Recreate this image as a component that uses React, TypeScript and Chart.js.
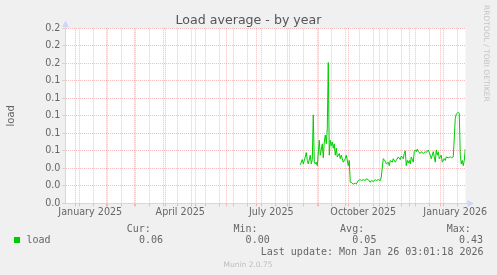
import { useEffect, useRef } from 'react';
import { Chart, registerables } from 'chart.js';

Chart.register(...registerables);

// ---- data (x = days since 2025-01-01, y = load) ----
const loadDays = [
  225, 226, 227, 228, 230, 231, 232, 233, 235, 236, 237, 238, 239, 240, 241, 242,
  244, 245, 246, 247, 248, 249, 250, 251, 252, 253, 254, 255, 256, 257, 258, 259,
  260, 261, 262, 264, 265, 266, 268, 270, 271, 273, 274,
  275, 276, 278, 280, 281, 283, 285, 286, 288, 290, 291, 293, 295, 296, 298, 300,
  301, 303, 305, 306,
  308, 310, 311, 313, 314, 315, 317, 318, 320, 321, 323, 325, 326, 328, 329, 330,
  331, 332, 333, 334, 335, 336, 338, 339, 340, 341, 342, 343, 345, 346, 348, 350,
  351, 353, 354, 355, 356, 358, 359, 360, 361, 362, 363, 364, 365, 366, 367, 369,
  370, 371, 373, 375, 376, 378, 380, 381, 383, 384, 385, 386, 387, 388, 389, 390,
];
const loadValues = [
  0.044, 0.047, 0.050, 0.045, 0.053, 0.058, 0.049, 0.045, 0.055, 0.045, 0.050, 0.101, 0.047, 0.045, 0.047, 0.043,
  0.072, 0.055, 0.061, 0.068, 0.052, 0.070, 0.078, 0.068, 0.085, 0.161, 0.055, 0.072, 0.066, 0.070, 0.063, 0.068,
  0.055, 0.063, 0.053, 0.057, 0.051, 0.055, 0.047, 0.051, 0.055, 0.043, 0.049,
  0.024, 0.024, 0.022, 0.023, 0.022, 0.026, 0.027, 0.026, 0.027, 0.026, 0.028, 0.027, 0.024, 0.026, 0.025, 0.027,
  0.026, 0.027, 0.026, 0.030,
  0.051, 0.048, 0.045, 0.047, 0.043, 0.049, 0.047, 0.051, 0.047, 0.049, 0.053, 0.050, 0.054, 0.051, 0.057, 0.060,
  0.043, 0.049, 0.046, 0.049, 0.045, 0.053, 0.047, 0.059, 0.061, 0.059, 0.062, 0.059, 0.057, 0.059, 0.057, 0.059,
  0.058, 0.061, 0.058, 0.055, 0.051, 0.059, 0.053, 0.047, 0.061, 0.055, 0.059, 0.051, 0.053, 0.055, 0.047, 0.051,
  0.049, 0.053, 0.052, 0.053, 0.052, 0.053, 0.097, 0.102, 0.104, 0.103, 0.055, 0.045, 0.049, 0.043, 0.049, 0.062,
];

// x range: 400 days ending Mon Jan 26 03:01:18 2026
const xStartDay = -9.874;
const xEndDay = 390.126;
const monthStartDays = [0, 31, 59, 90, 120, 151, 181, 212, 243, 273, 304, 334, 365];
const minorGridDays = [4, 18, 32, 46, 60, 74, 88, 102, 116, 130, 144, 158, 172, 186, 200, 214, 228, 242, 256, 270, 284, 298, 312, 326, 340, 354, 368, 382];
const xLabelDays = [15, 105, 196, 288, 380];
const xLabels = ['January 2025', 'April 2025', 'July 2025', 'October 2025', 'January 2026'];

const yMajorTicks = [0, 0.02, 0.04, 0.06, 0.08, 0.1, 0.12, 0.14, 0.16, 0.18, 0.2];
const yTickLabels = ['0.0', '0.0', '0.0', '0.1', '0.1', '0.1', '0.1', '0.1', '0.2', '0.2', '0.2'];

const chartTitle = 'Load average - by year';
const yAxisTitle = 'load';
const seriesName = 'load';
const statHeaders = ['Cur:', 'Min:', 'Avg:', 'Max:'];
const statValues = ['0.06', '0.00', '0.05', '0.43'];
const lastUpdate = 'Last update: Mon Jan 26 03:01:18 2026';
const footerText = 'Munin 2.0.75';
const watermark = 'RRDTOOL / TOBI OETIKER';

// ---- styles ----
const BG = '#F0F0F0';
const FONT_COLOR = '#666666';
const AXIS_COLOR = '#CFD6F8';
const MAJOR = 'rgba(230, 110, 110, 0.45)';
const MINOR = 'rgba(150, 150, 150, 0.45)';
const LINE = '#00CC00';

const W = 497;
const H = 275;

const muninPlugin = {
  id: 'muninDecor',
  beforeDraw(chart: any) {
    const { ctx, chartArea: a } = chart;
    ctx.save();
    ctx.fillStyle = BG;
    ctx.fillRect(0, 0, chart.width, chart.height);
    ctx.fillStyle = '#FFFFFF';
    ctx.fillRect(a.left, a.top, a.right - a.left, a.bottom - a.top);
    ctx.restore();
  },
  afterDraw(chart: any) {
    const { ctx, chartArea: a } = chart;
    ctx.save();
    // axis extensions and arrows
    const ax = Math.round(a.left - 0.5) + 0.5;
    const ay = Math.round(a.bottom - 0.5) + 0.5;
    ctx.strokeStyle = AXIS_COLOR;
    ctx.fillStyle = AXIS_COLOR;
    ctx.lineWidth = 1;
    ctx.beginPath();
    ctx.moveTo(ax, ay);
    ctx.lineTo(ax, 26);
    ctx.moveTo(ax, ay);
    ctx.lineTo(468, ay);
    ctx.stroke();
    ctx.beginPath();
    ctx.moveTo(ax, 20.5);
    ctx.lineTo(ax - 3.5, 27);
    ctx.lineTo(ax + 3.5, 27);
    ctx.closePath();
    ctx.fill();
    ctx.beginPath();
    ctx.moveTo(474, ay);
    ctx.lineTo(467.5, ay - 3.5);
    ctx.lineTo(467.5, ay + 3.5);
    ctx.closePath();
    ctx.fill();

    // title
    ctx.fillStyle = '#555555';
    ctx.font = '12.6px "DejaVu Sans"';
    ctx.textAlign = 'center';
    ctx.textBaseline = 'alphabetic';
    ctx.fillText(chartTitle, 248.5, 24);

    // watermark
    ctx.save();
    ctx.translate(486, 5);
    ctx.rotate(Math.PI / 2);
    ctx.fillStyle = '#C4C4C4';
    ctx.font = '7.5px "DejaVu Sans"';
    ctx.textAlign = 'left';
    ctx.textBaseline = 'middle';
    ctx.fillText(watermark, 0, 0);
    ctx.restore();

    // legend
    ctx.font = '10px "DejaVu Sans Mono"';
    ctx.fillStyle = FONT_COLOR;
    ctx.textBaseline = 'alphabetic';
    ctx.textAlign = 'left';
    statHeaders.forEach((h, i) => ctx.fillText(h, 126.7 + i * 106.7, 232.3));
    ctx.fillStyle = LINE;
    ctx.fillRect(14, 237, 6, 6);
    ctx.fillStyle = FONT_COLOR;
    ctx.fillText(seriesName, 26.5, 243.3);
    ctx.textAlign = 'right';
    statValues.forEach((v, i) => ctx.fillText(v, 163 + i * 106.7, 243.3));
    ctx.fillText(lastUpdate, 483.5, 255.3);

    // footer
    ctx.textAlign = 'center';
    ctx.fillStyle = '#BDBDBD';
    ctx.font = '7.5px "DejaVu Sans"';
    ctx.fillText(footerText, 248, 266.5);
    ctx.restore();
  },
};

export default function App() {
  const ref = useRef<HTMLCanvasElement | null>(null);

  useEffect(() => {
    document.body.style.margin = '0';
    const canvas = ref.current;
    if (!canvas) return;

    const allXTicks = [...monthStartDays, ...minorGridDays, ...xLabelDays].sort((p, q) => p - q);
    const isMonth = (v: number) => monthStartDays.includes(v);
    const isLabel = (v: number) => xLabelDays.includes(v);
    const isMajorY = (v: number) => Math.round(v * 100) % 2 === 0;

    const chart = new Chart(canvas, {
      type: 'line',
      data: {
        datasets: [
          {
            label: seriesName,
            data: loadDays.map((d, i) => ({ x: d, y: loadValues[i] })),
            borderColor: LINE,
            backgroundColor: LINE,
            borderWidth: 1,
            pointRadius: 0,
            tension: 0,
            fill: false,
          },
        ],
      },
      options: {
        responsive: false,
        animation: false,
        devicePixelRatio: 1,
        layout: { padding: { top: 28.3, right: 31.6, left: 0, bottom: 51.7 } },
        plugins: {
          legend: { display: false },
          title: { display: false },
          tooltip: { enabled: false },
        },
        scales: {
          x: {
            type: 'linear',
            min: xStartDay,
            max: xEndDay,
            afterBuildTicks: (scale: any) => {
              scale.ticks = allXTicks.map((v) => ({ value: v }));
            },
            afterFit: (scale: any) => {
              scale.height = 20;
            },
            ticks: {
              autoSkip: false,
              maxRotation: 0,
              minRotation: 0,
              padding: 0,
              color: FONT_COLOR,
              font: { family: 'DejaVu Sans', size: 9.6 },
              callback: (value: any) => {
                const idx = xLabelDays.indexOf(Number(value));
                return idx >= 0 ? xLabels[idx] : '';
              },
            },
            grid: {
              color: (c: any) => {
                const v = c.tick ? c.tick.value : 0;
                if (isLabel(v)) return 'rgba(0,0,0,0)';
                return isMonth(v) ? MAJOR : MINOR;
              },
              lineWidth: 1,
              tickLength: 3,
              tickBorderDash: [],
            },
            border: { color: AXIS_COLOR, width: 1, dash: [1, 1] },
          },
          y: {
            type: 'linear',
            min: 0,
            max: 0.2,
            afterFit: (scale: any) => {
              scale.width = 65.4;
            },
            ticks: {
              stepSize: 0.01,
              padding: 2,
              color: FONT_COLOR,
              font: { family: 'DejaVu Sans', size: 9.6 },
              callback: (value: any) => {
                const idx = yMajorTicks.findIndex((t) => Math.abs(t - Number(value)) < 1e-6);
                return idx >= 0 ? yTickLabels[idx] : '';
              },
            },
            grid: {
              color: (c: any) => (isMajorY(c.tick ? c.tick.value : 0) ? MAJOR : MINOR),
              tickColor: (c: any) => (isMajorY(c.tick ? c.tick.value : 0) ? '#D0D0D0' : 'rgba(0,0,0,0)'),
              lineWidth: 1,
              tickLength: 3,
              tickBorderDash: [],
            },
            border: { color: AXIS_COLOR, width: 1, dash: [1, 1] },
            title: {
              display: true,
              text: yAxisTitle,
              color: FONT_COLOR,
              font: { family: 'DejaVu Sans', size: 10 },
              padding: { top: 5, bottom: 0 },
            },
          },
        },
      },
      plugins: [muninPlugin],
    } as any);

    return () => chart.destroy();
  }, []);

  return (
    <div style={{ width: W, height: H }}>
      <canvas ref={ref} width={W} height={H} style={{ display: 'block', width: W, height: H }} />
    </div>
  );
}
